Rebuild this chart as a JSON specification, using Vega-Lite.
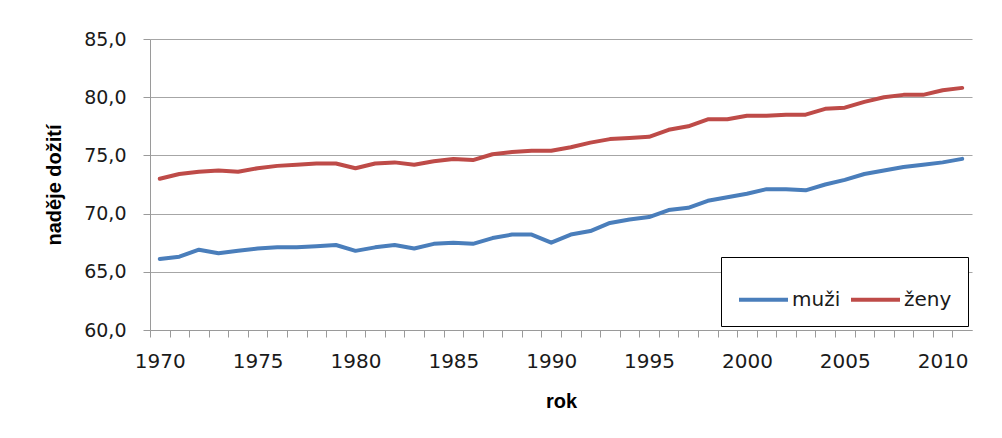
{
  "$schema": "https://vega.github.io/schema/vega-lite/v6.json",
  "autosize": {"type": "none"},
  "width": 822,
  "height": 291,
  "padding": {"left": 150, "top": 39, "right": 30, "bottom": 108},
  "background": "white",
  "data": {"values": [
    {"rok": 1970, "pohlavi": "muži", "nadeje": 66.1}, {"rok": 1971, "pohlavi": "muži", "nadeje": 66.3},
    {"rok": 1972, "pohlavi": "muži", "nadeje": 66.9}, {"rok": 1973, "pohlavi": "muži", "nadeje": 66.6},
    {"rok": 1974, "pohlavi": "muži", "nadeje": 66.8}, {"rok": 1975, "pohlavi": "muži", "nadeje": 67.0},
    {"rok": 1976, "pohlavi": "muži", "nadeje": 67.1}, {"rok": 1977, "pohlavi": "muži", "nadeje": 67.1},
    {"rok": 1978, "pohlavi": "muži", "nadeje": 67.2}, {"rok": 1979, "pohlavi": "muži", "nadeje": 67.3},
    {"rok": 1980, "pohlavi": "muži", "nadeje": 66.8}, {"rok": 1981, "pohlavi": "muži", "nadeje": 67.1},
    {"rok": 1982, "pohlavi": "muži", "nadeje": 67.3}, {"rok": 1983, "pohlavi": "muži", "nadeje": 67.0},
    {"rok": 1984, "pohlavi": "muži", "nadeje": 67.4}, {"rok": 1985, "pohlavi": "muži", "nadeje": 67.5},
    {"rok": 1986, "pohlavi": "muži", "nadeje": 67.4}, {"rok": 1987, "pohlavi": "muži", "nadeje": 67.9},
    {"rok": 1988, "pohlavi": "muži", "nadeje": 68.2}, {"rok": 1989, "pohlavi": "muži", "nadeje": 68.2},
    {"rok": 1990, "pohlavi": "muži", "nadeje": 67.5}, {"rok": 1991, "pohlavi": "muži", "nadeje": 68.2},
    {"rok": 1992, "pohlavi": "muži", "nadeje": 68.5}, {"rok": 1993, "pohlavi": "muži", "nadeje": 69.2},
    {"rok": 1994, "pohlavi": "muži", "nadeje": 69.5}, {"rok": 1995, "pohlavi": "muži", "nadeje": 69.7},
    {"rok": 1996, "pohlavi": "muži", "nadeje": 70.3}, {"rok": 1997, "pohlavi": "muži", "nadeje": 70.5},
    {"rok": 1998, "pohlavi": "muži", "nadeje": 71.1}, {"rok": 1999, "pohlavi": "muži", "nadeje": 71.4},
    {"rok": 2000, "pohlavi": "muži", "nadeje": 71.7}, {"rok": 2001, "pohlavi": "muži", "nadeje": 72.1},
    {"rok": 2002, "pohlavi": "muži", "nadeje": 72.1}, {"rok": 2003, "pohlavi": "muži", "nadeje": 72.0},
    {"rok": 2004, "pohlavi": "muži", "nadeje": 72.5}, {"rok": 2005, "pohlavi": "muži", "nadeje": 72.9},
    {"rok": 2006, "pohlavi": "muži", "nadeje": 73.4}, {"rok": 2007, "pohlavi": "muži", "nadeje": 73.7},
    {"rok": 2008, "pohlavi": "muži", "nadeje": 74.0}, {"rok": 2009, "pohlavi": "muži", "nadeje": 74.2},
    {"rok": 2010, "pohlavi": "muži", "nadeje": 74.4}, {"rok": 2011, "pohlavi": "muži", "nadeje": 74.7},
    {"rok": 1970, "pohlavi": "ženy", "nadeje": 73.0}, {"rok": 1971, "pohlavi": "ženy", "nadeje": 73.4},
    {"rok": 1972, "pohlavi": "ženy", "nadeje": 73.6}, {"rok": 1973, "pohlavi": "ženy", "nadeje": 73.7},
    {"rok": 1974, "pohlavi": "ženy", "nadeje": 73.6}, {"rok": 1975, "pohlavi": "ženy", "nadeje": 73.9},
    {"rok": 1976, "pohlavi": "ženy", "nadeje": 74.1}, {"rok": 1977, "pohlavi": "ženy", "nadeje": 74.2},
    {"rok": 1978, "pohlavi": "ženy", "nadeje": 74.3}, {"rok": 1979, "pohlavi": "ženy", "nadeje": 74.3},
    {"rok": 1980, "pohlavi": "ženy", "nadeje": 73.9}, {"rok": 1981, "pohlavi": "ženy", "nadeje": 74.3},
    {"rok": 1982, "pohlavi": "ženy", "nadeje": 74.4}, {"rok": 1983, "pohlavi": "ženy", "nadeje": 74.2},
    {"rok": 1984, "pohlavi": "ženy", "nadeje": 74.5}, {"rok": 1985, "pohlavi": "ženy", "nadeje": 74.7},
    {"rok": 1986, "pohlavi": "ženy", "nadeje": 74.6}, {"rok": 1987, "pohlavi": "ženy", "nadeje": 75.1},
    {"rok": 1988, "pohlavi": "ženy", "nadeje": 75.3}, {"rok": 1989, "pohlavi": "ženy", "nadeje": 75.4},
    {"rok": 1990, "pohlavi": "ženy", "nadeje": 75.4}, {"rok": 1991, "pohlavi": "ženy", "nadeje": 75.7},
    {"rok": 1992, "pohlavi": "ženy", "nadeje": 76.1}, {"rok": 1993, "pohlavi": "ženy", "nadeje": 76.4},
    {"rok": 1994, "pohlavi": "ženy", "nadeje": 76.5}, {"rok": 1995, "pohlavi": "ženy", "nadeje": 76.6},
    {"rok": 1996, "pohlavi": "ženy", "nadeje": 77.2}, {"rok": 1997, "pohlavi": "ženy", "nadeje": 77.5},
    {"rok": 1998, "pohlavi": "ženy", "nadeje": 78.1}, {"rok": 1999, "pohlavi": "ženy", "nadeje": 78.1},
    {"rok": 2000, "pohlavi": "ženy", "nadeje": 78.4}, {"rok": 2001, "pohlavi": "ženy", "nadeje": 78.4},
    {"rok": 2002, "pohlavi": "ženy", "nadeje": 78.5}, {"rok": 2003, "pohlavi": "ženy", "nadeje": 78.5},
    {"rok": 2004, "pohlavi": "ženy", "nadeje": 79.0}, {"rok": 2005, "pohlavi": "ženy", "nadeje": 79.1},
    {"rok": 2006, "pohlavi": "ženy", "nadeje": 79.6}, {"rok": 2007, "pohlavi": "ženy", "nadeje": 80.0},
    {"rok": 2008, "pohlavi": "ženy", "nadeje": 80.2}, {"rok": 2009, "pohlavi": "ženy", "nadeje": 80.2},
    {"rok": 2010, "pohlavi": "ženy", "nadeje": 80.6}, {"rok": 2011, "pohlavi": "ženy", "nadeje": 80.8}
  ]},
  "mark": {"type": "line", "strokeWidth": 4, "strokeCap": "round", "strokeJoin": "round"},
  "encoding": {
    "x": {
      "field": "rok", "type": "quantitative",
      "scale": {"domain": [1969.5, 2011.5], "nice": false, "zero": false},
      "axis": {
        "title": "rok",
        "values": [1970,1971,1972,1973,1974,1975,1976,1977,1978,1979,1980,1981,1982,1983,1984,1985,1986,1987,1988,1989,1990,1991,1992,1993,1994,1995,1996,1997,1998,1999,2000,2001,2002,2003,2004,2005,2006,2007,2008,2009,2010,2011,2012],
        "format": "d",
        "labelExpr": "datum.value % 5 == 0 && datum.value <= 2010 ? datum.label : ''",
        "tickOffset": -9.786,
        "labelOffset": 9.786,
        "tickSize": 7,
        "tickColor": "#9a9a9a",
        "domainColor": "#9a9a9a",
        "grid": false,
        "labelFont": "DejaVu Sans",
        "labelFontSize": 20,
        "labelColor": "#1a1a1a",
        "labelPadding": 14,
        "labelOverlap": false,
        "labelFlush": false,
        "titleFont": "Liberation Sans",
        "titleFontSize": 20,
        "titleFontWeight": "bold",
        "titleColor": "#000000",
        "titlePadding": 20
      }
    },
    "y": {
      "field": "nadeje", "type": "quantitative",
      "scale": {"domain": [60, 85], "nice": false, "zero": false},
      "axis": {
        "title": "naděje dožití",
        "values": [60, 65, 70, 75, 80, 85],
        "labelExpr": "replace(format(datum.value, '.1f'), '.', ',')",
        "tickSize": 7,
        "tickColor": "#9a9a9a",
        "domainColor": "#9a9a9a",
        "gridColor": "#a6a6a6",
        "gridWidth": 1.2,
        "labelFont": "DejaVu Sans",
        "labelFontSize": 19,
        "labelColor": "#1a1a1a",
        "labelPadding": 17,
        "titleFont": "Liberation Sans",
        "titleFontSize": 20,
        "titleFontWeight": "bold",
        "titleColor": "#000000",
        "titlePadding": 19
      }
    },
    "color": {
      "field": "pohlavi", "type": "nominal",
      "scale": {"domain": ["muži", "ženy"], "range": ["#4a7ebb", "#be4b48"]},
      "legend": {
        "title": null,
        "orient": "bottom-right",
        "offset": 4,
        "direction": "horizontal",
        "symbolType": "stroke",
        "symbolStrokeWidth": 4,
        "symbolSize": 2401,
        "labelFont": "DejaVu Sans",
        "labelFontSize": 20,
        "labelColor": "#1a1a1a",
        "labelOffset": 2,
        "columnPadding": 2,
        "padding": 16,
        "strokeColor": "#000000",
        "fillColor": "white"
      }
    }
  },
  "config": {"view": {"stroke": null}}
}
